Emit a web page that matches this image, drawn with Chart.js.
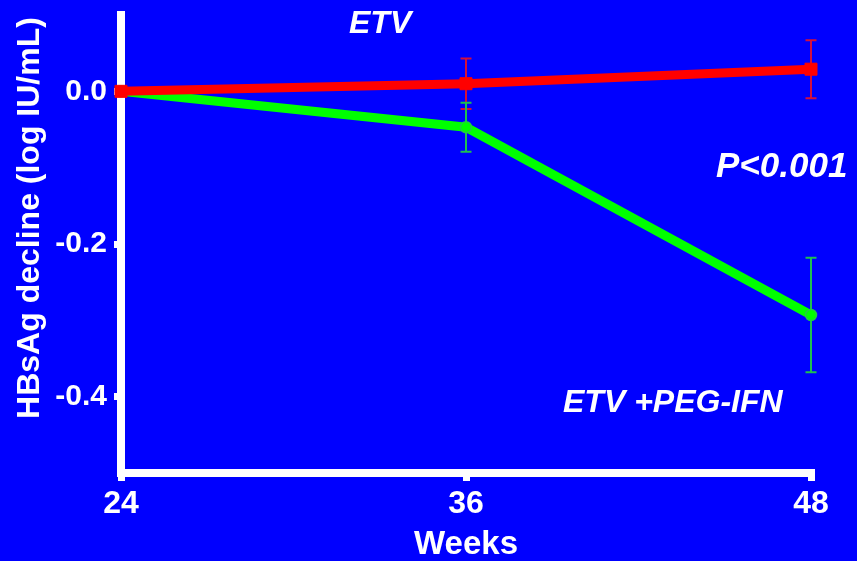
<!DOCTYPE html>
<html>
<head>
<meta charset="utf-8">
<script src="https://cdn.jsdelivr.net/npm/chart.js@4"></script>
<style>
  html, body { margin: 0; padding: 0; background: #0000ff; }
  #wrap { width: 857px; height: 561px; position: relative; }
</style>
</head>
<body>
<div id="wrap"><canvas id="chart"></canvas></div>
<script>
// Mean HBsAg change from week 24 (log IU/mL) with SEM
const weeks = [24, 36, 48];
const etvMean = [0.0, 0.010, 0.029];
const etvSem = [0.0, 0.033, 0.038];
const comboMean = [0.0, -0.047, -0.293];
const comboSem = [0.0, 0.032, 0.075];
const yTickValues = [-0.4, -0.2, 0.0];

const seriesNames = ['ETV', 'ETV +PEG-IFN'];
const pValueText = 'P<0.001';
const xTitle = 'Weeks';
const yTitle = 'HBsAg decline (log IU/mL)';

const FONT = '"Liberation Sans", Arial, Helvetica, sans-serif';
const WHITE = '#ffffff';

const toPoints = (ys) => weeks.map((w, i) => ({ x: w, y: ys[i] }));

// Vertical SEM bars with caps, drawn underneath the lines
const errorBars = {
  id: 'errorBars',
  beforeDatasetsDraw(chart) {
    const { ctx, scales: { x, y } } = chart;
    chart.data.datasets.forEach((ds) => {
      if (!ds.sem) return;
      ctx.save();
      ctx.strokeStyle = ds.semColor;
      ctx.lineWidth = 2;
      ds.data.forEach((p, i) => {
        const e = ds.sem[i];
        if (!e) return;
        const px = x.getPixelForValue(p.x);
        const top = y.getPixelForValue(p.y + e);
        const bot = y.getPixelForValue(p.y - e);
        ctx.beginPath();
        ctx.moveTo(px, top); ctx.lineTo(px, bot);
        ctx.moveTo(px - 5.5, top); ctx.lineTo(px + 5.5, top);
        ctx.moveTo(px - 5.5, bot); ctx.lineTo(px + 5.5, bot);
        ctx.stroke();
      });
      ctx.restore();
    });
  }
};

// Background, rotated y title and in-plot labels
const decor = {
  id: 'decor',
  beforeDraw(chart) {
    const { ctx, width, height } = chart;
    ctx.save();
    ctx.fillStyle = '#0000ff';
    ctx.fillRect(0, 0, width, height);
    ctx.restore();
  },
  afterDraw(chart) {
    const { ctx } = chart;
    ctx.save();
    ctx.fillStyle = WHITE;

    ctx.save();
    ctx.translate(30, 218);
    ctx.rotate(-Math.PI / 2);
    ctx.font = 'bold 32px ' + FONT;
    ctx.textAlign = 'center';
    ctx.textBaseline = 'middle';
    ctx.fillText(yTitle, 0, 0);
    ctx.restore();

    ctx.textAlign = 'left';
    ctx.textBaseline = 'alphabetic';
    ctx.font = 'italic bold 32px ' + FONT;
    ctx.fillText(seriesNames[0], 349, 33);
    ctx.fillText(seriesNames[1], 563, 412);
    ctx.font = 'italic bold 35px ' + FONT;
    ctx.fillText(pValueText, 716, 177);
    ctx.restore();
  }
};

new Chart(document.getElementById('chart'), {
  type: 'line',
  data: {
    datasets: [
      {
        label: seriesNames[0],
        data: toPoints(etvMean),
        sem: etvSem,
        semColor: '#d4103c',
        borderColor: '#ff0000',
        backgroundColor: '#ff0000',
        borderWidth: 9,
        pointStyle: 'rect',
        pointRadius: 8.5,
        pointBorderWidth: 1,
        pointBorderColor: '#ff0000',
        pointBackgroundColor: '#ff0000',
        tension: 0,
        clip: false
      },
      {
        label: seriesNames[1],
        data: toPoints(comboMean),
        sem: comboSem,
        semColor: '#1fc050',
        borderColor: '#00ff00',
        backgroundColor: '#00ff00',
        borderWidth: 9,
        pointStyle: 'circle',
        pointRadius: 5.5,
        pointBorderWidth: 1.5,
        pointBorderColor: '#22cc44',
        pointBackgroundColor: '#00ff00',
        tension: 0,
        clip: false
      }
    ]
  },
  options: {
    responsive: true,
    maintainAspectRatio: false,
    animation: false,
    layout: { padding: { left: 0, right: 46, top: 15, bottom: 0 } },
    plugins: {
      legend: { display: false },
      tooltip: { enabled: false }
    },
    scales: {
      x: {
        type: 'linear',
        min: 24,
        max: 48,
        afterBuildTicks: (s) => { s.ticks = weeks.map(v => ({ value: v })); },
        afterFit: (s) => { s.height = 88; s.paddingLeft = 0; s.paddingRight = 0; },
        border: { display: true, color: WHITE, width: 8 },
        grid: { drawOnChartArea: false, drawTicks: true, tickLength: 8, tickWidth: 7, tickColor: WHITE, lineWidth: 7, color: WHITE },
        ticks: {
          color: WHITE,
          padding: 4,
          font: { family: FONT, size: 32, weight: 'bold' },
          callback: (v) => String(v)
        },
        title: {
          display: true,
          text: xTitle,
          color: WHITE,
          font: { family: FONT, size: 33, weight: 'bold', lineHeight: 0.95 },
          padding: { top: 0, bottom: 0 }
        }
      },
      y: {
        type: 'linear',
        min: -0.5,
        max: 0.1,
        afterBuildTicks: (s) => { s.ticks = yTickValues.map(v => ({ value: v })); },
        afterFit: (s) => { s.width = 121; s.paddingTop = 0; s.paddingBottom = 0; },
        border: { display: true, color: WHITE, width: 8 },
        grid: { drawOnChartArea: false, drawTicks: true, tickLength: 7, tickWidth: 7, tickColor: WHITE, lineWidth: 7, color: WHITE },
        ticks: {
          color: WHITE,
          padding: 7,
          font: { family: FONT, size: 30, weight: 'bold' },
          callback: (v) => Number(v).toFixed(1)
        }
      }
    }
  },
  plugins: [errorBars, decor]
});
</script>
</body>
</html>
